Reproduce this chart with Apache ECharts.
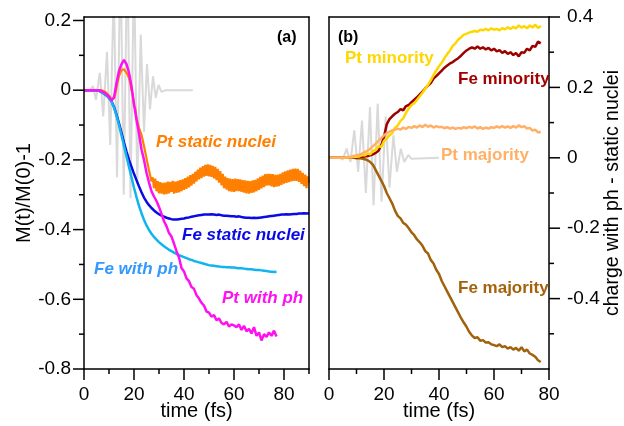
<!DOCTYPE html>
<html><head><meta charset="utf-8">
<script src="https://cdn.jsdelivr.net/npm/echarts@6/dist/echarts.min.js"></script>
<style>html,body{margin:0;padding:0;background:#fff}#c{width:624px;height:426px}</style>
</head><body><div id="c"></div>
<script>
// ---------- panel (a) data ----------
const ptStaticStep = 0.5;
const ptStatic = [
 0,0,0,0,0,0,0,0,0,0,0,0,0,0,0,0,
 -0.003,-0.005,-0.008,-0.012,-0.016,-0.02,-0.026,-0.03,-0.024,-0.012,
 0.006,0.026,0.04,0.05,0.057,0.062,0.06,0.056,0.05,0.044,
 0.034,0.022,0.0,-0.012,-0.046,-0.052,-0.08,-0.082,-0.108,-0.11,
 -0.128,-0.127,-0.16,-0.158,-0.195,-0.193,-0.23,-0.226,-0.262,-0.25,
 -0.281,-0.254,-0.29,-0.261,-0.296,-0.264,-0.297,-0.266,-0.299,-0.265,
 -0.298,-0.262,-0.296,-0.263,-0.292,-0.26,-0.297,-0.262,-0.295,-0.26,
 -0.293,-0.258,-0.29,-0.256,-0.286,-0.252,-0.283,-0.248,-0.279,-0.244,
 -0.274,-0.24,-0.268,-0.234,-0.262,-0.228,-0.256,-0.222,-0.252,-0.218,
 -0.248,-0.214,-0.246,-0.213,-0.247,-0.214,-0.249,-0.217,-0.253,-0.22,
 -0.258,-0.226,-0.265,-0.232,-0.273,-0.24,-0.281,-0.248,-0.285,-0.252,
 -0.29,-0.254,-0.291,-0.255,-0.292,-0.254,-0.29,-0.255,-0.29,-0.256,
 -0.292,-0.258,-0.294,-0.259,-0.296,-0.26,-0.297,-0.261,-0.295,-0.259,
 -0.293,-0.257,-0.29,-0.253,-0.286,-0.249,-0.282,-0.245,-0.278,-0.241,
 -0.274,-0.24,-0.273,-0.24,-0.276,-0.241,-0.278,-0.243,-0.277,-0.242,
 -0.275,-0.24,-0.272,-0.236,-0.268,-0.233,-0.266,-0.23,-0.264,-0.228,
 -0.262,-0.226,-0.26,-0.225,-0.26,-0.226,-0.263,-0.231,-0.269,-0.237,
 -0.275,-0.242,-0.281,-0.247,-0.266
];
const feStaticStep = 1;
const feStatic = [
 0,0,0,0,0,0,-0.002,-0.005,-0.01,-0.015,-0.022,
 -0.032,-0.048,-0.07,-0.095,-0.122,-0.15,-0.176,-0.2,-0.22,-0.24,
 -0.258,-0.276,-0.293,-0.308,-0.32,-0.33,-0.338,-0.345,-0.351,-0.356,
 -0.36,-0.363,-0.366,-0.368,-0.37,-0.371,-0.371,-0.37,-0.369,-0.368,
 -0.366,-0.365,-0.363,-0.362,-0.36,-0.359,-0.358,-0.357,-0.357,-0.357,
 -0.356,-0.357,-0.358,-0.357,-0.359,-0.36,-0.36,-0.361,-0.362,-0.362,
 -0.363,-0.362,-0.364,-0.365,-0.366,-0.366,-0.367,-0.366,-0.367,-0.366,
 -0.365,-0.364,-0.363,-0.362,-0.361,-0.36,-0.359,-0.358,-0.357,-0.357,
 -0.356,-0.357,-0.356,-0.355,-0.355,-0.354,-0.354,-0.353,-0.354,-0.353
];
const feWithPhStep = 1;
const feWithPh = [
 0,0,0,0,0,0,-0.002,-0.005,-0.01,-0.015,-0.022,
 -0.033,-0.05,-0.073,-0.1,-0.13,-0.16,-0.19,-0.22,-0.25,-0.28,
 -0.307,-0.332,-0.353,-0.372,-0.388,-0.401,-0.412,-0.421,-0.429,-0.436,
 -0.442,-0.448,-0.453,-0.458,-0.462,-0.466,-0.47,-0.473,-0.476,-0.479,
 -0.482,-0.485,-0.487,-0.49,-0.492,-0.494,-0.496,-0.498,-0.5,-0.502,
 -0.503,-0.504,-0.505,-0.506,-0.507,-0.507,-0.508,-0.508,-0.509,-0.509,
 -0.51,-0.511,-0.511,-0.512,-0.513,-0.514,-0.514,-0.515,-0.516,-0.516,
 -0.517,-0.518,-0.519,-0.52,-0.521,-0.522,-0.521
];
const ptWithPhStep = 1;
const ptWithPh = [
 0,0,0,0,0,0,-0.001,-0.003,-0.006,-0.012,-0.018,
 -0.03,-0.02,0.02,0.055,0.075,0.087,0.075,0.05,0.01,-0.04,
 -0.085,-0.125,-0.17,-0.2,-0.237,-0.265,-0.29,-0.305,-0.318,-0.335,
 -0.355,-0.376,-0.39,-0.41,-0.42,-0.44,-0.462,-0.48,-0.51,-0.52,
 -0.54,-0.548,-0.565,-0.57,-0.588,-0.598,-0.61,-0.618,-0.635,-0.638,
 -0.65,-0.645,-0.66,-0.655,-0.668,-0.672,-0.665,-0.678,-0.672,-0.675,
 -0.68,-0.672,-0.688,-0.676,-0.692,-0.685,-0.698,-0.68,-0.705,-0.695,
 -0.718,-0.7,-0.708,-0.695,-0.705,-0.69,-0.707
];
const pulseAT = [0,2.5,3.6,4.8,6.3,7.7,9.2,10.5,11.9,13.2,14.6,15.9,17.3,18.6,20,21.3,22.7,24,25.2,26.4,27.6,28.7,29.8,31,32.5,43.5];
const pulseAV = [0,0,0.012,-0.028,0.05,-0.075,0.11,-0.157,0.3,-0.25,0.4,-0.3,0.42,-0.31,0.36,-0.27,0.16,-0.12,0.075,-0.055,0.04,-0.022,0.015,-0.005,0,0];

// ---------- panel (b) data ----------
const rightStep = 1;
const ptMinority = [
 0,0,0,0,0,0,0,0.001,0.001,0.002,0.003,
 0.004,0.007,0.007,0.012,0.01,0.02,0.022,0.034,0.03,0.048,
 0.055,0.064,0.07,0.085,0.092,0.105,0.112,0.128,0.14,0.15,
 0.155,0.165,0.175,0.185,0.196,0.207,0.22,0.235,0.248,0.26,
 0.27,0.283,0.295,0.305,0.318,0.325,0.336,0.342,0.35,0.352,
 0.356,0.358,0.36,0.358,0.364,0.362,0.366,0.362,0.368,0.364,
 0.366,0.362,0.368,0.365,0.371,0.366,0.372,0.368,0.376,0.37,
 0.374,0.368,0.376,0.37,0.378,0.369,0.374
];
const feMinority = [
 0,0,0,0,0,0,0,0,0,0.001,0.001,
 0.002,0.003,0.004,0.005,0.007,0.01,0.014,0.02,0.035,0.06,
 0.095,0.11,0.118,0.125,0.13,0.138,0.135,0.147,0.15,0.158,
 0.165,0.172,0.18,0.188,0.197,0.205,0.212,0.225,0.232,0.24,
 0.248,0.256,0.262,0.268,0.272,0.278,0.283,0.29,0.298,0.305,
 0.31,0.314,0.31,0.316,0.31,0.314,0.308,0.312,0.305,0.31,
 0.302,0.306,0.298,0.303,0.295,0.3,0.292,0.298,0.288,0.3,
 0.298,0.31,0.305,0.318,0.315,0.33,0.325
];
const ptMajority = [
 0,0,0,0,0,0,0.001,0.002,0.003,0.005,0.007,
 0.009,0.012,0.016,0.02,0.026,0.033,0.04,0.048,0.056,0.064,
 0.07,0.074,0.078,0.08,0.083,0.08,0.086,0.082,0.088,0.085,
 0.09,0.086,0.092,0.087,0.094,0.088,0.092,0.086,0.09,0.087,
 0.088,0.084,0.087,0.083,0.086,0.082,0.085,0.083,0.087,0.084,
 0.088,0.085,0.089,0.083,0.087,0.082,0.086,0.083,0.087,0.085,
 0.089,0.086,0.09,0.086,0.089,0.085,0.09,0.086,0.092,0.087,
 0.09,0.083,0.085,0.077,0.08,0.072,0.074
];
const feMajority = [
 0,0,0,0,0,0,0,0,0,0,-0.001,
 -0.001,-0.002,-0.004,-0.007,-0.012,-0.02,-0.035,-0.05,-0.065,-0.08,
 -0.1,-0.115,-0.13,-0.15,-0.165,-0.172,-0.185,-0.19,-0.2,-0.212,
 -0.22,-0.232,-0.24,-0.25,-0.265,-0.272,-0.29,-0.3,-0.318,-0.33,
 -0.35,-0.365,-0.38,-0.395,-0.41,-0.425,-0.44,-0.455,-0.468,-0.48,
 -0.495,-0.505,-0.512,-0.51,-0.52,-0.518,-0.525,-0.524,-0.53,-0.532,
 -0.535,-0.53,-0.538,-0.535,-0.542,-0.538,-0.545,-0.54,-0.548,-0.538,
 -0.55,-0.545,-0.556,-0.56,-0.565,-0.575,-0.58
];
const pulseBT = [0,4,5,6.4,7.8,9.2,10.6,12,13.4,14.9,16.2,17.7,19.1,20.6,22,23.4,24.7,26.1,27.4,28.8,30,40];
const pulseBV = [0,0,-0.005,0.026,-0.012,0.078,-0.04,0.106,-0.1,0.144,-0.135,0.154,-0.125,0.117,-0.085,0.064,-0.04,0.026,-0.012,0.008,-0.003,0];

// ---------- tick values ----------
const xTicksA = [0,20,40,60,80];
const xMinorA = [10,30,50,70,90];
const yTicksA = [-0.8,-0.6,-0.4,-0.2,0,0.2];
const yMinorA = [-0.7,-0.5,-0.3,-0.1,0.1];
const xTicksB = [0,20,40,60,80];
const xMinorB = [10,30,50,70];
const yTicksB = [-0.4,-0.2,0,0.2,0.4];
const yMinorB = [-0.5,-0.3,-0.1,0.1,0.3];

const FONT = '"Liberation Sans", Arial, Helvetica, sans-serif';
function seq(step, vals){ return vals.map((v,i)=>[i*step, v]); }
function zip(ts, vs){ return ts.map((t,i)=>[t, vs[i]]); }
function fmt(v){ return String(+v.toFixed(2)); }

const LS = {color:'#000', width:1.5};
function axis(grid, pos, min, max, labels, margin, fontSize, name, gap, nameSize){
  const a = {gridIndex:grid, type:'value', position:pos, min:min, max:max, z:10,
    axisLine:{show:true, onZero:false, lineStyle:LS}, splitLine:{show:false},
    axisTick:{show:false},
    axisLabel:{show:!!labels, margin:margin, fontSize:fontSize, color:'#000', fontFamily:FONT,
      customValues:labels || undefined, formatter:function(v){ return fmt(v); }}};
  if (name){ a.name = name; a.nameLocation = 'middle'; a.nameGap = gap; a.nameMoveOverlap = false;
    a.nameTextStyle = {fontSize:nameSize, color:'#000', fontFamily:FONT}; }
  return a;
}
function line(name, data, color, xi, yi, width, z){
  return {name:name, type:'line', data:data, xAxisIndex:xi, yAxisIndex:yi, symbol:'none',
    lineStyle:{color:color, width:width}, itemStyle:{color:color}, z:z, clip:true, animation:false};
}
// tick marks drawn through the axes' own scales (api.coord)
function ticks(xi, yi, pts, dx, dy, len){
  return {type:'custom', xAxisIndex:xi, yAxisIndex:yi, clip:false, silent:true, z:20, animation:false,
    data:pts,
    renderItem:function(params, api){
      const p = api.coord([api.value(0), api.value(1)]);
      return {type:'line', shape:{x1:p[0], y1:p[1], x2:p[0]+dx*len, y2:p[1]+dy*len},
        style:{stroke:'#000', lineWidth:1.5}};
    }};
}
function label(text, x, y, color, italic, size){
  return {type:'text', left:x, top:y-size/2-1, z:100,
    style:{text:text, fill:color, font:(italic?'italic ':'')+'bold '+size+'px '+FONT}};
}

const chart = echarts.init(document.getElementById('c'), null, {renderer:'canvas'});
chart.setOption({
  animation:false,
  backgroundColor:'#fff',
  grid:[
    {left:84, top:17, width:225, height:353, show:false},
    {left:329, top:17, width:229, height:353, show:false}
  ],
  xAxis:[
    axis(0, 'bottom', 0, 90, xTicksA, 16, 19, 'time (fs)', 32, 20),
    axis(0, 'top', 0, 90, null, 0, 0, null),
    axis(1, 'bottom', 0, 80, xTicksB, 16, 19, 'time (fs)', 32, 20),
    axis(1, 'top', 0, 80, null, 0, 0, null)
  ],
  yAxis:[
    axis(0, 'left', -0.8, 0.21, yTicksA, 13, 19, 'M(t)/M(0)-1', 50, 20),
    axis(0, 'right', -0.8, 0.21, null, 0, 0, null),
    axis(1, 'right', -0.6, 0.4, yTicksB, 18, 19, 'charge with ph - static nuclei', 54, 19.5),
    axis(1, 'left', -0.6, 0.4, null, 0, 0, null)
  ],
  series:[
    line('pulse a', zip(pulseAT, pulseAV), '#d9d9d9', 0, 0, 2, 1),
    line('Pt static nuclei', seq(ptStaticStep, ptStatic), '#ff8000', 0, 0, 2.2, 2),
    line('Fe static nuclei', seq(feStaticStep, feStatic), '#0a0ae6', 0, 0, 2.5, 3),
    line('Fe with ph', seq(feWithPhStep, feWithPh), '#12b4ee', 0, 0, 2.5, 4),
    line('Pt with ph', seq(ptWithPhStep, ptWithPh), '#ff10f0', 0, 0, 2.5, 5),
    line('pulse b', zip(pulseBT, pulseBV), '#d9d9d9', 2, 2, 2, 1),
    line('Fe majority', seq(rightStep, feMajority), '#a0620a', 2, 2, 2.5, 2),
    line('Fe minority', seq(rightStep, feMinority), '#9e0000', 2, 2, 2.5, 3),
    line('Pt minority', seq(rightStep, ptMinority), '#ffd700', 2, 2, 2.5, 4),
    line('Pt majority', seq(rightStep, ptMajority), '#ffb066', 2, 2, 2.5, 5),
    ticks(0, 0, xTicksA.map(v=>[v, -0.8]), 0, 1, 11),
    ticks(0, 0, xMinorA.map(v=>[v, -0.8]), 0, 1, 5),
    ticks(0, 0, yTicksA.map(v=>[0, v]), -1, 0, 11),
    ticks(0, 0, yMinorA.map(v=>[0, v]), -1, 0, 5),
    ticks(2, 2, xTicksB.map(v=>[v, -0.6]), 0, 1, 11),
    ticks(2, 2, xMinorB.map(v=>[v, -0.6]), 0, 1, 5),
    ticks(2, 2, yTicksB.map(v=>[80, v]), 1, 0, 11),
    ticks(2, 2, yMinorB.map(v=>[80, v]), 1, 0, 5)
  ],
  graphic:[
    label('(a)', 277, 39, '#000', false, 16),
    label('(b)', 338, 39, '#000', false, 16),
    label('Pt static nuclei', 156, 143, '#ff8000', true, 17),
    label('Fe static nuclei', 182, 236, '#0a0ae6', true, 17),
    label('Fe with ph', 94, 270, '#3399ff', true, 17),
    label('Pt with ph', 222, 299, '#ff10f0', true, 17),
    label('Pt minority', 345, 59, '#ffd700', false, 17),
    label('Fe minority', 458, 80, '#a30000', false, 17),
    label('Pt majority', 441, 156, '#ffb066', false, 17),
    label('Fe majority', 458, 289, '#a5620a', false, 17)
  ]
});
</script></body></html>
